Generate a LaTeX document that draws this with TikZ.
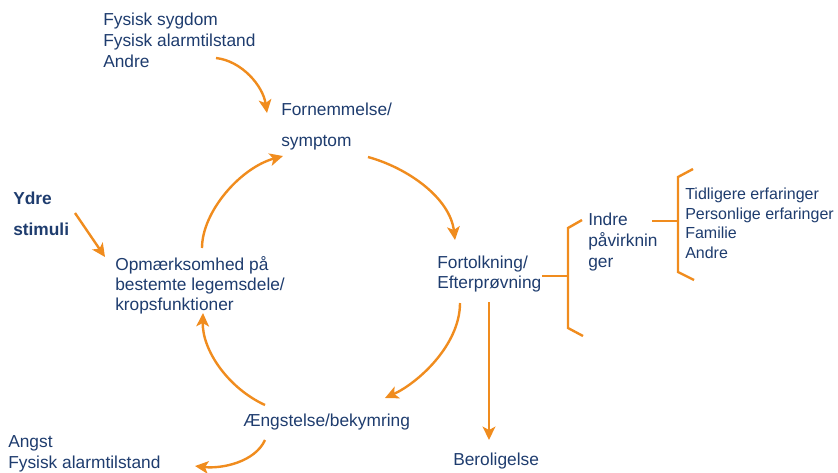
\documentclass[tikz,border=0pt]{standalone}
\usepackage{fontspec}
\setmainfont{Liberation Sans}
\usetikzlibrary{arrows.meta}
\definecolor{navy}{RGB}{30,60,110}
\definecolor{flow}{RGB}{240,140,30}
\begin{document}
\begin{tikzpicture}[x=0.75pt,y=-0.75pt,
  lbl/.style={inner sep=0pt,anchor=north west,align=left,text=navy,
    font=\fontsize{13}{15.75}\selectfont},
  lblwide/.style={lbl,font=\fontsize{13}{23}\selectfont},
  lblsmall/.style={lbl,font=\fontsize{12}{14.6}\selectfont},
  flowarrow/.style={draw=flow,line width=1.8pt,
    -{Stealth[length=10pt,width=9.5pt,inset=2.5pt]}},
  brace/.style={draw=flow,line width=1.8pt,line join=miter}]
\useasboundingbox (0,0) rectangle (838,472);

% text blocks
\node[lbl] (causes) at (103,13) {Fysisk sygdom\\Fysisk alarmtilstand\\Andre};
\node[lblwide] (symptom) at (281,103) {Fornemmelse/\\symptom};
\node[lblwide,font=\bfseries\fontsize{13}{23}\selectfont] (ydre) at (13,192) {Ydre\\stimuli};
\node[lbl,font=\fontsize{13}{15}\selectfont] (attention) at (115,256) {Opmærksomhed på\\bestemte legemsdele/\\kropsfunktioner};
\node[lbl,font=\fontsize{13}{15}\selectfont] (interp) at (437,256) {Fortolkning/\\Efterprøvning};
\node[lbl] (indre) at (588,213) {Indre\\påvirknin\\ger};
\node[lblsmall] (experience) at (685,188) {Tidligere erfaringer\\Personlige erfaringer\\Familie\\Andre};
\node[lbl,anchor=base west] (worry) at (243,426) {Ængstelse/bekymring};
\node[lbl] (anxiety) at (8,435) {Angst\\Fysisk alarmtilstand};
\node[lbl,anchor=base west] (calm) at (453,465) {Beroligelse};

% arrow end points next to the text blocks
\coordinate (causesOut) at (216,58);
\coordinate (symptomIn) at (267,113);
\coordinate (attentionOut) at (202,248);
\coordinate (symptomIn2) at (283,156);
\coordinate (symptomOut) at (368,157);
\coordinate (interpIn) at (455,240);
\coordinate (interpOut) at (460,303);
\coordinate (worryIn) at (385,398);
\coordinate (worryOut) at (265,405);
\coordinate (attentionIn) at (203,313);
\coordinate (worryOut2) at (265,440);
\coordinate (anxietyIn) at (195,466);
\coordinate (interpOut2) at (489,302);
\coordinate (calmIn) at (489,440);
\coordinate (ydreOut) at (75,213);
\coordinate (attentionIn2) at (105,257);

% the cycle and its side arrows
\draw[flowarrow] (causesOut) .. controls (242,61) and (263,86) .. (symptomIn);
\draw[flowarrow] (attentionOut) .. controls (202,212) and (240,168) .. (symptomIn2);
\draw[flowarrow] (symptomOut) .. controls (408,168) and (450,198) .. (interpIn);
\draw[flowarrow] (interpOut) .. controls (460,345) and (418,383) .. (worryIn);
\draw[flowarrow] (worryOut) .. controls (228,388) and (202,350) .. (attentionIn);
\draw[flowarrow] (worryOut2) .. controls (255,462) and (222,469) .. (anxietyIn);
\draw[flowarrow] (interpOut2) -- (calmIn);
\draw[flowarrow] (ydreOut) -- (attentionIn2);

% brackets
\coordinate (interpEnd) at (542,276);
\coordinate (braceA) at (568,276);
\draw[brace] (interpEnd) -- (braceA);
\draw[brace] (582,220) -- (568,228) -- (568,328) -- (583,336);
\coordinate (indreEnd) at (652,221);
\coordinate (braceB) at (678,221);
\draw[brace] (indreEnd) -- (braceB);
\draw[brace] (693,169) -- (678,177) -- (678,272) -- (694,280);
\end{tikzpicture}
\end{document}
